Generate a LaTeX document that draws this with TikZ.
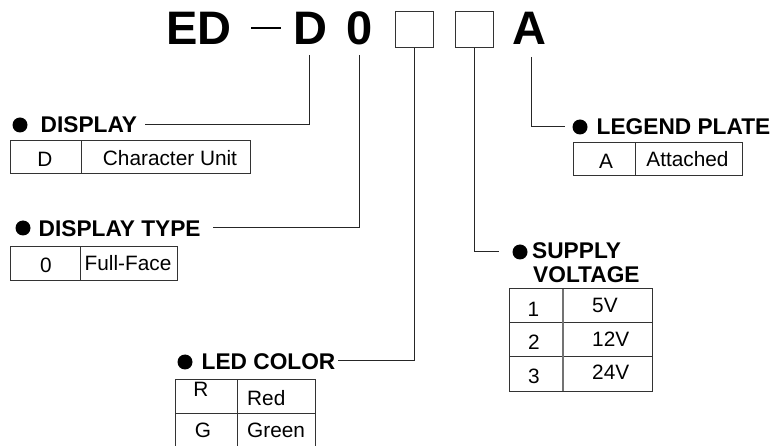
\documentclass[tikz,border=0pt]{standalone}
\usepackage{fontspec}
\setmainfont{Liberation Sans}
\begin{document}
\begin{tikzpicture}[x=1pt,y=-1pt,
  hd/.style={font=\fontsize{22.7}{26}\selectfont\bfseries, inner sep=0pt, anchor=base west},
  tx/.style={font=\fontsize{20.8}{24}\selectfont, inner sep=0pt, anchor=base},
  txl/.style={tx, anchor=base west},
  ttl/.style={font=\fontsize{47}{50}\selectfont\bfseries, inner sep=0pt, anchor=base},
  dot/.style={circle, fill=black, inner sep=0pt, minimum size=15pt},
  ln/.style={line width=1pt, draw=black!85},
  tb/.style={line width=1pt, draw=black!80},
  sq/.style={draw=black!80, line width=1pt, minimum width=38pt, minimum height=36pt, inner sep=0pt}]
\useasboundingbox (0,0) rectangle (774,446);

% title
\node[ttl] (tED) at (199,45) {ED};
\draw[line width=2.5pt] (251,28) -- (281,28);
\node[ttl] (tD) at (310,45) {D};
\node[ttl] (t0) at (359.5,45) {0};
\node[sq] (b1) at (414,30) {};
\node[sq] (b2) at (474,30) {};
\node[ttl] (tA) at (529.5,45) {A};

% connector anchor points
\coordinate (sD) at (309,55);
\coordinate (s0) at (359,55);
\coordinate (sA) at (531,57);
\coordinate (eDisp) at (145,125);
\coordinate (eType) at (213,228);
\coordinate (eLed) at (338,361);
\coordinate (eSup) at (499,252);
\coordinate (eLeg) at (565,127);

\draw[ln] (sD) |- (eDisp);
\draw[ln] (s0) |- (eType);
\draw[ln] (b1.south) |- (eLed);
\draw[ln] (b2.south) |- (eSup);
\draw[ln] (sA) |- (eLeg);

% headings
\node[dot] (dDisp) at (20,125) {};
\node[hd] (hDisp) at (40.5,133) {DISPLAY};
\node[dot] (dType) at (23,228) {};
\node[hd] (hType) at (38.5,237) {DISPLAY TYPE};
\node[dot] (dLeg) at (580,127) {};
\node[hd] (hLeg) at (596.5,135) {LEGEND PLATE};
\node[dot] (dSup) at (520,252) {};
\node[hd] (hSup) at (532,259) {SUPPLY};
\node[hd] (hVol) at (533,283) {VOLTAGE};
\node[dot] (dLed) at (185,362) {};
\node[hd] (hLed) at (201.5,370) {LED COLOR};

% DISPLAY table
\draw[tb] (10,141) rectangle (250,174);
\draw[tb] (81,141) -- (81,174);
\node[tx] (cD) at (45,167) {D};
\node[tx] (cCU) at (170,166) {Character Unit};

% DISPLAY TYPE table
\draw[tb] (10,247) rectangle (177,281);
\draw[tb] (80,247) -- (80,281);
\node[tx] (c0) at (46,273) {0};
\node[txl] (cFF) at (84.5,271) {Full-Face};

% LEGEND table
\draw[tb] (573,143) rectangle (742,176);
\draw[tb] (635,143) -- (635,176);
\node[tx] (cA) at (606,169) {A};
\node[tx] (cAt) at (687.5,167) {Attached};

% SUPPLY table
\draw[tb] (509,289) rectangle (652,391);
\draw[tb] (509,323) -- (652,323);
\draw[tb] (509,357) -- (652,357);
\draw[line width=1.3pt, draw=black!55] (563,289) -- (563,391);
\node[tx] (s1) at (533.5,317) {1};
\node[tx] (s2) at (534,350) {2};
\node[tx] (s3) at (534,383) {3};
\node[txl] (v1) at (592,313) {5V};
\node[txl] (v2) at (592,347) {12V};
\node[txl] (v3) at (592,380) {24V};

% LED table
\draw[tb] (175,447) -- (175,379) -- (315,379) -- (315,447);
\draw[tb] (237,379) -- (237,447);
\draw[tb] (175,413) -- (315,413);
\node[tx] (lR) at (201,396) {R};
\node[txl] (lRed) at (247,406) {Red};
\node[tx] (lG) at (203,437) {G};
\node[txl] (lGr) at (247,437) {Green};
\end{tikzpicture}
\end{document}
